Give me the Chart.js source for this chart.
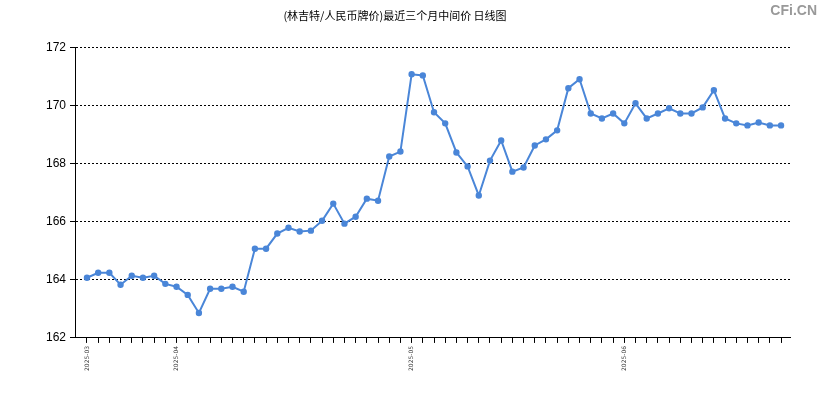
<!DOCTYPE html>
<html><head><meta charset="utf-8">
<script src="https://cdn.jsdelivr.net/npm/chart.js@4/dist/chart.umd.min.js"></script>
<style>body{margin:0;background:#fff}#w{position:relative;width:825px;height:400px}
#logo{position:absolute;right:8px;top:2px;font:bold 14px "Liberation Sans",Arial;color:#999}</style>
</head><body><div id="w"><canvas id="c" width="825" height="400"></canvas><div id="logo">CFi.CN</div></div>
<script>
const title = "(林吉特/人民币牌价)最近三个月中间价 日线图";
const values = [164.07,164.24,164.24,163.83,164.14,164.07,164.14,163.86,163.76,163.48,162.86,163.69,163.69,163.76,163.59,165.07,165.07,165.59,165.79,165.66,165.69,166.03,166.62,165.93,166.17,166.79,166.72,168.24,168.41,171.07,171.03,169.76,169.38,168.38,167.90,166.90,168.10,168.79,167.72,167.86,168.62,168.83,169.14,170.59,170.90,169.72,169.55,169.72,169.38,170.07,169.55,169.72,169.90,169.72,169.72,169.93,170.52,169.55,169.38,169.31,169.41,169.31,169.31];
const monthLabels = {0:"2025-03",8:"2025-04",29:"2025-05",48:"2025-06"};
const yTicks = [162,164,166,168,170,172];
new Chart(document.getElementById('c'), {
  type:'line',
  data:{datasets:[{data:values.map((v,i)=>({x:i,y:v})),borderColor:'#4a86d8',backgroundColor:'#4a86d8',borderWidth:2,pointRadius:2.2,pointBackgroundColor:'#4a86d8',tension:0}]},
  options:{responsive:false,animation:false,
    layout:{padding:{top:0,right:35,left:0,bottom:26}},
    plugins:{legend:{display:false},tooltip:{enabled:false},
      title:{display:true,text:title,color:'#000',font:{family:'"Noto Sans CJK SC"',size:11,weight:'normal'},padding:{top:9,bottom:25}}},
    scales:{
      x:{type:'linear',min:-1.07,max:62.8,
        afterBuildTicks:s=>{s.ticks=values.map((v,i)=>({value:i}));},
        grid:{drawOnChartArea:false,drawTicks:true,tickLength:5,color:'#000'},
        border:{color:'#000'},
        ticks:{autoSkip:false,maxRotation:90,minRotation:90,color:'#333',font:{size:6,family:'"DejaVu Sans"'},padding:3,
          callback:(v)=>monthLabels[v]||''}},
      y:{min:162,max:172,
        afterBuildTicks:s=>{s.ticks=yTicks.map(v=>({value:v}));},
        afterFit:s=>{s.width=75;},
        grid:{color:'#000',tickLength:5,tickColor:'#000'},
        border:{color:'#000',dash:[2,2]},
        ticks:{color:'#000',font:{size:12,family:'"Liberation Sans"'},padding:4}}
    }
  }
});
</script></body></html>
